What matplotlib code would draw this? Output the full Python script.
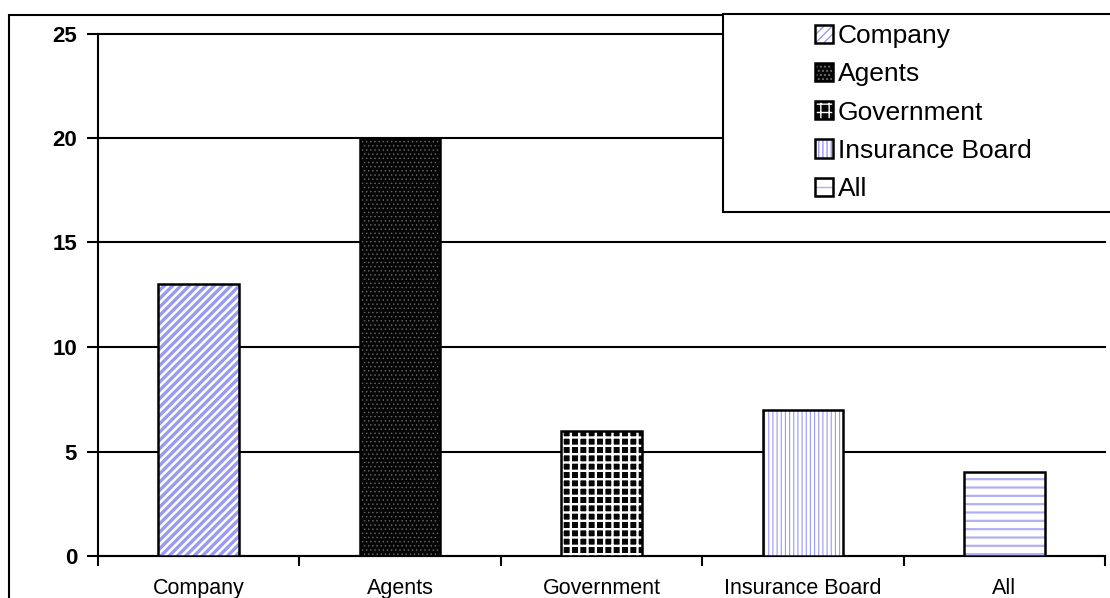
import matplotlib
matplotlib.use("Agg")
import matplotlib.pyplot as plt
from matplotlib.patches import Patch, Rectangle
from matplotlib.legend_handler import HandlerTuple

categories = ["Company", "Agents", "Government", "Insurance Board", "All"]
values = [13, 20, 6, 7, 4]
yticks = [0, 5, 10, 15, 20, 25]

face_colors = ["white", "#050505", "#050505", "white", "white"]
hatch_colors = ["#9a9af0", "#6a6a6a", "white", "#9a9af0", "#b0b0f2"]
hatches = ["////", "....", "++", "||||", "--"]
hatch_lw = [2.4, 0.5, 1.7, 0.8, 1.6]

plt.rcParams['font.family'] = ['Liberation Sans', 'DejaVu Sans']

fig = plt.figure(figsize=(11.1, 5.98), dpi=100)
ax = fig.add_axes([98/1110, 1-556/598, (1105-98)/1110, (556-33.5)/598])

x = list(range(len(categories)))
width = 0.4
for i, (xi, v) in enumerate(zip(x, values)):
    with plt.rc_context({'hatch.linewidth': hatch_lw[i]}):
        b = ax.bar(xi, v, width=width, color=face_colors[i], edgecolor=hatch_colors[i],
                   hatch=hatches[i], linewidth=0, zorder=3)
        for p in b:
            if hasattr(p, 'set_hatch_linewidth'):
                p.set_hatch_linewidth(hatch_lw[i])
    ax.bar(xi, v, width=width, fill=False, edgecolor="black", linewidth=1.8, zorder=4)

ax.set_xlim(-0.5, len(categories) - 0.5)
ax.set_ylim(0, 25)
ax.set_yticks(yticks)
ax.set_yticklabels([str(t) for t in yticks], fontsize=16, fontweight='bold')
ax.set_xticks(x)
ax.set_xticklabels(categories, fontsize=15.5)
ax.set_xticks([i - 0.5 for i in range(len(categories) + 1)], minor=True)
ax.tick_params(axis='x', which='major', length=0, pad=15.5)
ax.tick_params(axis='x', which='minor', length=7, width=1.5, direction='out')
ax.tick_params(axis='y', length=8, width=1.5, direction='out', pad=7)
ax.yaxis.grid(True, color='black', linewidth=1.5, zorder=1)
ax.set_axisbelow(True)
for gl in ax.get_ygridlines():
    gl.set_clip_on(False)
for s in ['top', 'right']:
    ax.spines[s].set_visible(False)
for s in ['left', 'bottom']:
    ax.spines[s].set_linewidth(1.5)
    ax.spines[s].set_color('black')

# outer chart border
fig.patches.append(Rectangle((9/1110, -0.2), 1.2, 0.2 + (598-15)/598, transform=fig.transFigure,
                             fill=False, edgecolor='black', linewidth=1.5, clip_on=False))
# legend box
fig.patches.append(Rectangle((723/1110, 1-212/598), 1.0, (212-14)/598, transform=fig.transFigure,
                             fill=True, facecolor='white', edgecolor='black', linewidth=1.5,
                             clip_on=False, zorder=5))

handles = []
for i in range(len(categories)):
    lw = min(hatch_lw[i], 1.5)
    with plt.rc_context({'hatch.linewidth': lw}):
        h1 = Patch(facecolor=face_colors[i], edgecolor=hatch_colors[i], hatch=hatches[i], linewidth=0)
        if hasattr(h1, 'set_hatch_linewidth'):
            h1.set_hatch_linewidth(lw)
    h2 = Patch(fill=False, edgecolor='black', linewidth=1.8)
    handles.append((h1, h2))

leg = fig.legend(handles, categories, loc='upper left',
                 bbox_to_anchor=(815/1110, 1-24/598), frameon=False, fontsize=19,
                 handlelength=0.68, handleheight=0.68, handletextpad=0.19, labelspacing=0.54,
                 borderpad=0, borderaxespad=0,
                 handler_map={tuple: HandlerTuple(ndivide=1, pad=0)})
leg.set_zorder(6)

fig.savefig("out.png", dpi=100)
